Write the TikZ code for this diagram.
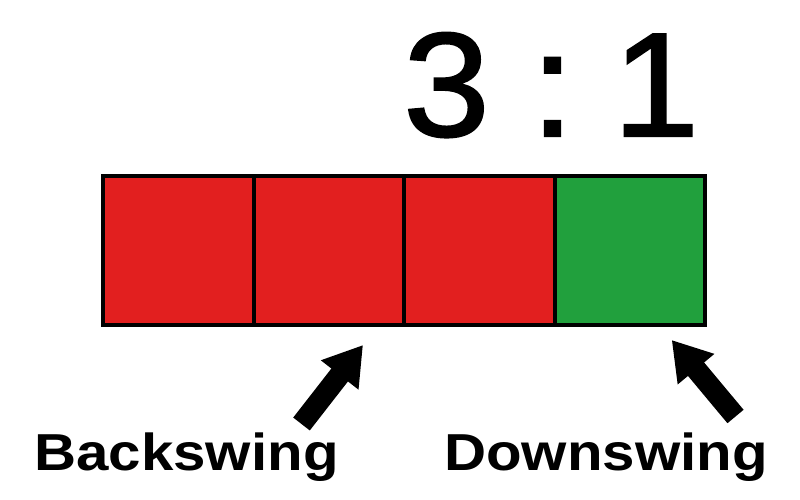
\documentclass[tikz,border=0pt]{standalone}
\usepackage{fontspec}
\setmainfont{Liberation Sans}
\newfontfamily\ratiofont[FakeBold=1.5, FakeStretch=1.05]{Liberation Sans}
\usetikzlibrary{arrows.meta}
\definecolor{boxred}{HTML}{E21F1F}
\definecolor{boxgreen}{HTML}{21A03D}
\tikzset{
  cell/.style={draw=black, line width=4pt, rectangle, minimum width=150.5pt, minimum height=149pt, inner sep=0pt, outer sep=0pt},
  ratio/.style={anchor=base, inner sep=0pt, font=\ratiofont\fontsize{148}{148}\selectfont},
  lbl/.style={anchor=base, inner sep=0pt, font=\fontsize{52}{52}\selectfont\bfseries},
  fatarrow/.style={line width=21pt, -{Triangle[length=38pt,width=45pt]}}
}
\begin{document}
\begin{tikzpicture}[x=1pt,y=-1pt]
\useasboundingbox (0,0) rectangle (800,500);
\fill[white] (0,0) rectangle (800,500);
% ratio
\node[ratio] (three) at (446.5,136) {3};
\node[ratio] (colon) at (552.5,136) {:};
\node[ratio] (one) at (656,136) {1};
% cells
\node[cell, fill=boxred] (r1) at (178.25,250.5) {};
\node[cell, fill=boxred] (r2) at (328.75,250.5) {};
\node[cell, fill=boxred] (r3) at (479.25,250.5) {};
\node[cell, fill=boxgreen] (g1) at (629.75,250.5) {};
% labels
\node[lbl] (back) at (186.5,470) {\scalebox{1.12}[1]{Backswing}};
\node[lbl] (down) at (606,470) {\scalebox{1.12}[1]{Downswing}};
% arrows
\coordinate (bt) at (301.5,424);
\coordinate (bh) at (363,345);
\coordinate (dt) at (735.5,416.5);
\coordinate (dh) at (671.7,340);
\draw[fatarrow] (bt) -- (bh);
\draw[fatarrow] (dt) -- (dh);
\end{tikzpicture}
\end{document}
